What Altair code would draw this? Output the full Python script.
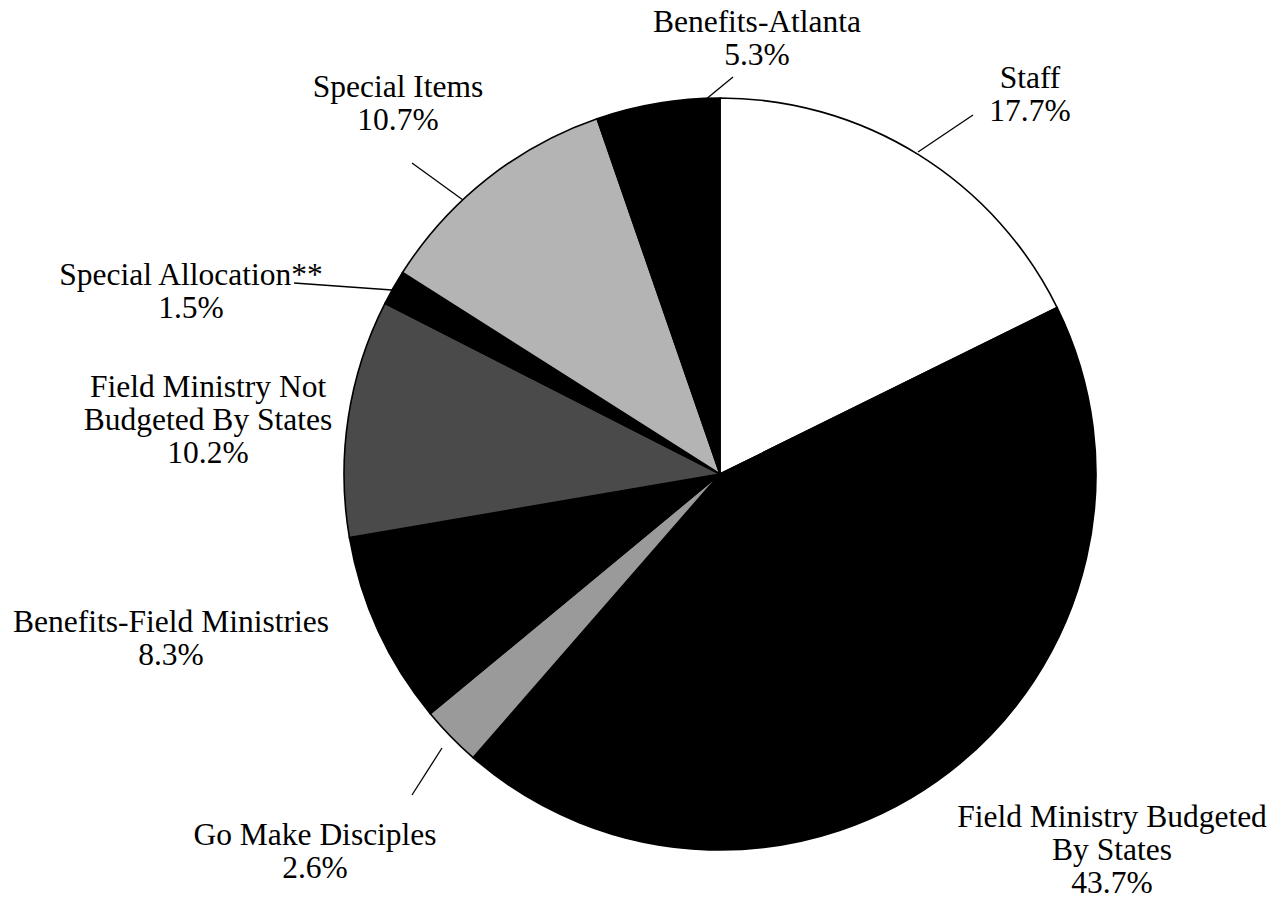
import altair as alt
import pandas as pd

# ---- data ----
categories = [
    "Staff",
    "Field Ministry Budgeted By States",
    "Go Make Disciples",
    "Benefits-Field Ministries",
    "Field Ministry Not Budgeted By States",
    "Special Allocation**",
    "Special Items",
    "Benefits-Atlanta",
]
values = [17.7, 43.7, 2.6, 8.3, 10.2, 1.5, 10.7, 5.3]
label_names = [
    "Staff",
    "Field Ministry Budgeted\nBy States",
    "Go Make Disciples",
    "Benefits-Field Ministries",
    "Field Ministry Not\nBudgeted By States",
    "Special Allocation**",
    "Special Items",
    "Benefits-Atlanta",
]

# ---- styling / layout (not data) ----
fills = ["#ffffff", "#000000", "#9a9a9a", "#000000", "#4a4a4a", "#000000", "#b4b4b4", "#000000"]
W, H = 1261, 890
CX, CY = 712, 466          # pie centre inside the plot area
R = 376                    # pie radius
# label anchor (centre of text, baseline of first line) relative to pie centre
label_dx = [310, 392, -405, -549, -512, -529, -322, 37]
label_dy = [-386, 353, 371, 158, -77, -189, -377, -442]
# leader lines relative to pie centre: (outer end) -> (pie edge)
leader_idx = [0, 2, 5, 6, 7]
leader_x1 = [253, -308, -426, -308, 13]
leader_y1 = [-359, 321, -191, -311, -397]
leader_x2 = [198, -278, -328, -257, -15]
leader_y2 = [-322, 274, -184, -274, -374]

pie_df = pd.DataFrame({"cat": categories, "value": values, "idx": list(range(len(values)))})

lab_df = pd.DataFrame({
    "label": [f"{n}\n{v}%" for n, v in zip(label_names, values)],
    "lx": [CX + d for d in label_dx],
    "ly": [CY + d for d in label_dy],
})

lead_df = pd.DataFrame({
    "cat": [categories[i] for i in leader_idx],
    "x1": [CX + d for d in leader_x1],
    "y1": [CY + d for d in leader_y1],
    "x2": [CX + d for d in leader_x2],
    "y2": [CY + d for d in leader_y2],
})

pie = alt.Chart(pie_df).mark_arc(outerRadius=R, stroke="black", strokeWidth=1.6).encode(
    theta=alt.Theta("value:Q", stack=True),
    order=alt.Order("idx:Q"),
    color=alt.Color("cat:N", scale=alt.Scale(domain=categories, range=fills), legend=None),
    x=alt.value(CX),
    y=alt.value(CY),
)

labels = alt.Chart(lab_df).mark_text(
    font="Liberation Serif", fontSize=31.5, lineHeight=33, align="center",
    baseline="alphabetic", lineBreak="\n", color="black",
).encode(
    x=alt.X("lx:Q", scale=None, axis=None),
    y=alt.Y("ly:Q", scale=None, axis=None),
    text="label:N",
)

leaders = alt.Chart(lead_df).mark_rule(color="black", strokeWidth=1.3).encode(
    x=alt.X("x1:Q", scale=None, axis=None),
    y=alt.Y("y1:Q", scale=None, axis=None),
    x2="x2:Q",
    y2="y2:Q",
)

chart = alt.layer(pie, leaders, labels).properties(
    width=W, height=H, autosize="none", padding=0, background="white"
).configure_view(stroke=None)

chart.save("out.html", embed_options={"renderer": "svg", "actions": False})
